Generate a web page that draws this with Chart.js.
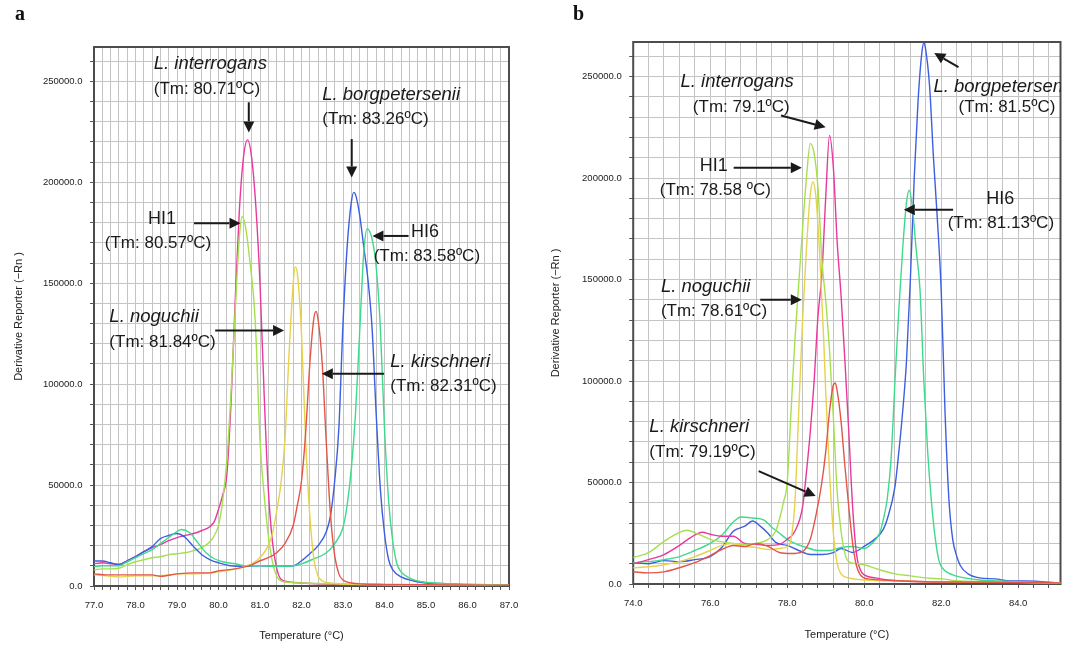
<!DOCTYPE html>
<html>
<head>
<meta charset="utf-8">
<title>Melt curves</title>
<script src="https://cdn.jsdelivr.net/npm/chart.js@4.4.1/dist/chart.umd.min.js"></script>
<style>
	body { margin: 0; background: #fff; }
	.wrap { position: relative; width: 1073px; height: 646px; overflow: hidden; }
	canvas { position: absolute; top: 0; }
	#chartA { left: 0; }
	#chartB { left: 540px; }
	.panel { position: absolute; top: 2px; font: bold 20px 'Liberation Serif', 'Times New Roman', serif; color: #111; }
</style>
</head>
<body>
<div class="wrap">
	<canvas id="chartA" width="540" height="646"></canvas>
	<canvas id="chartB" width="533" height="646"></canvas>
	<div class="panel" style="left:15px">a</div>
	<div class="panel" style="left:573px">b</div>
</div>
<script>
// panel a : [temperature, derivative reporter]
const aInterrogans = [[77.0, 11000], [77.2, 11500], [77.4, 11000], [77.6, 10800], [77.8, 12500], [78.0, 14500], [78.2, 17000], [78.4, 19000], [78.6, 20500], [78.8, 22500], [79.0, 24000], [79.2, 25000], [79.4, 26000], [79.6, 27500], [79.8, 29500], [79.9, 32000], [80.0, 38000], [80.1, 45000], [80.2, 55000], [80.3, 90000], [80.4, 140000], [80.5, 185000], [80.6, 212000], [80.7, 221000], [80.8, 212000], [80.9, 188000], [81.0, 150000], [81.1, 95000], [81.2, 48000], [81.3, 22000], [81.4, 9000], [81.5, 3500], [81.7, 2000], [82.0, 1500], [82.5, 1000], [83.0, 700], [84.0, 500], [85.0, 500], [86.0, 400], [87.0, 400]]
const aHI1 = [[77.0, 8000], [77.2, 8500], [77.4, 8500], [77.6, 8800], [77.8, 10500], [78.0, 12000], [78.2, 13000], [78.4, 14000], [78.6, 14500], [78.8, 15500], [79.0, 16000], [79.2, 16500], [79.4, 17500], [79.6, 19000], [79.8, 22000], [79.9, 25000], [80.0, 30000], [80.1, 42000], [80.2, 62000], [80.3, 95000], [80.4, 135000], [80.5, 172000], [80.57, 183000], [80.65, 178000], [80.75, 162000], [80.85, 142000], [80.9, 125000], [81.0, 72000], [81.1, 45000], [81.2, 25000], [81.3, 12000], [81.4, 5000], [81.5, 2500], [81.7, 1800], [82.0, 1500], [83.0, 1000], [84.0, 700], [85.0, 600], [86.0, 500], [87.0, 400]]
const aNoguchii = [[77.0, 5500], [77.3, 5000], [77.6, 4500], [78.0, 5000], [78.4, 5000], [78.8, 5500], [79.0, 6000], [79.4, 6000], [79.8, 6500], [80.0, 7000], [80.3, 8000], [80.6, 9500], [80.8, 11000], [81.0, 14000], [81.2, 20000], [81.3, 26000], [81.4, 37000], [81.5, 50000], [81.6, 72000], [81.7, 115000], [81.8, 150000], [81.85, 158000], [81.9, 155000], [82.0, 125000], [82.1, 72000], [82.2, 35000], [82.3, 13000], [82.4, 5000], [82.5, 2500], [82.7, 1500], [83.0, 1000], [84.0, 700], [85.0, 500], [86.0, 500], [87.0, 400]]
const aKirschneri = [[77.0, 6000], [77.3, 5500], [77.6, 5500], [78.0, 5500], [78.4, 5500], [78.6, 4800], [79.0, 6000], [79.4, 6500], [79.8, 6500], [80.0, 7500], [80.4, 8500], [80.8, 10500], [81.0, 12500], [81.2, 14000], [81.4, 16500], [81.6, 21000], [81.8, 30000], [81.9, 40000], [82.0, 52000], [82.1, 76000], [82.2, 110000], [82.3, 133000], [82.35, 136000], [82.4, 132000], [82.5, 110000], [82.6, 70000], [82.7, 35000], [82.8, 15000], [82.9, 6000], [83.0, 3000], [83.2, 1500], [83.5, 1000], [84.0, 800], [85.0, 600], [86.0, 500], [87.0, 400]]
const aBorgpetersenii = [[77.0, 12400], [77.2, 12400], [77.4, 11500], [77.6, 10500], [77.8, 12500], [78.0, 14500], [78.2, 17000], [78.4, 19500], [78.6, 23500], [78.8, 25000], [79.0, 26000], [79.2, 24000], [79.4, 19500], [79.6, 15500], [79.8, 13000], [80.0, 11500], [80.3, 10000], [80.6, 9800], [81.0, 10000], [81.4, 9800], [81.8, 10000], [82.0, 12500], [82.2, 16000], [82.4, 20000], [82.6, 27000], [82.7, 35000], [82.8, 52000], [82.9, 78000], [83.0, 130000], [83.1, 168000], [83.2, 190000], [83.26, 195000], [83.3, 194000], [83.4, 184000], [83.5, 168000], [83.6, 152000], [83.7, 128000], [83.8, 85000], [83.9, 48000], [84.0, 26000], [84.1, 13000], [84.2, 8000], [84.4, 4500], [84.7, 2500], [85.0, 1500], [85.5, 1200], [86.0, 600], [87.0, 400]]
const aHI6 = [[77.0, 9500], [77.2, 10000], [77.4, 10000], [77.6, 10000], [77.8, 12000], [78.0, 14000], [78.2, 16000], [78.4, 18000], [78.6, 21000], [78.8, 24000], [79.0, 27000], [79.1, 28000], [79.3, 26500], [79.5, 21500], [79.7, 16500], [79.9, 13500], [80.1, 12000], [80.4, 11000], [80.7, 10000], [81.0, 10000], [81.4, 9800], [81.8, 10000], [82.0, 11000], [82.3, 13500], [82.6, 16500], [82.8, 21000], [83.0, 29000], [83.1, 40000], [83.2, 58000], [83.3, 85000], [83.4, 125000], [83.5, 165000], [83.58, 177000], [83.7, 172000], [83.8, 158000], [83.9, 128000], [84.0, 78000], [84.1, 42000], [84.2, 22000], [84.3, 11000], [84.4, 7000], [84.6, 4000], [84.8, 2500], [85.2, 1500], [85.8, 1000], [86.5, 600], [87.0, 400]]

// panel b
const bInterrogans = [[74.0, 10000], [74.4, 12000], [74.8, 14500], [75.2, 19000], [75.5, 23000], [75.8, 25500], [76.0, 24500], [76.3, 23500], [76.6, 23500], [76.9, 20000], [77.2, 19500], [77.5, 19000], [77.8, 19500], [78.0, 22000], [78.2, 26000], [78.4, 38000], [78.5, 55000], [78.6, 75000], [78.7, 100000], [78.8, 132000], [78.9, 152000], [79.0, 190000], [79.1, 221000], [79.2, 205000], [79.3, 168000], [79.4, 142000], [79.5, 110000], [79.6, 75000], [79.7, 38000], [79.8, 15000], [79.9, 7000], [80.0, 4500], [80.3, 3000], [80.6, 2000], [81.0, 1500], [82.0, 1000], [83.0, 800], [84.0, 600], [85.1, 500]]
const bHI1 = [[74.0, 13000], [74.4, 15500], [74.8, 21000], [75.1, 24500], [75.4, 26500], [75.7, 24500], [76.0, 22000], [76.4, 20500], [76.8, 19500], [77.2, 20000], [77.5, 22000], [77.7, 26000], [77.8, 32000], [77.9, 40000], [78.0, 50000], [78.1, 85000], [78.2, 120000], [78.3, 148000], [78.4, 175000], [78.5, 200000], [78.6, 217000], [78.7, 212000], [78.8, 195000], [78.9, 160000], [79.0, 140000], [79.1, 115000], [79.2, 82000], [79.3, 45000], [79.4, 26000], [79.5, 15000], [79.6, 11000], [79.8, 10000], [80.0, 9500], [80.4, 7000], [80.8, 5000], [81.2, 4000], [81.6, 3000], [82.0, 2500], [82.5, 1500], [83.0, 1200], [84.0, 800], [85.1, 500]]
const bNoguchii = [[74.0, 8000], [74.4, 8500], [74.8, 9500], [75.2, 11000], [75.6, 13500], [76.0, 16500], [76.3, 19000], [76.6, 20000], [76.9, 18500], [77.2, 18000], [77.5, 17000], [77.8, 17500], [78.0, 18500], [78.1, 22000], [78.2, 40000], [78.3, 85000], [78.4, 130000], [78.5, 165000], [78.6, 192000], [78.67, 198000], [78.75, 190000], [78.85, 160000], [78.95, 120000], [79.0, 95000], [79.1, 55000], [79.2, 25000], [79.3, 10000], [79.4, 5000], [79.6, 3000], [80.0, 2000], [81.0, 1500], [82.0, 1000], [83.0, 1000], [84.0, 800], [85.1, 500]]
const bKirschneri = [[74.0, 6000], [74.4, 5500], [74.8, 6000], [75.2, 8000], [75.6, 10500], [76.0, 14000], [76.3, 17000], [76.6, 19000], [76.9, 18500], [77.2, 20000], [77.5, 18500], [77.8, 15500], [78.1, 15000], [78.4, 16000], [78.6, 22000], [78.75, 34000], [78.9, 50000], [79.0, 65000], [79.1, 85000], [79.2, 98000], [79.25, 99000], [79.3, 95000], [79.4, 80000], [79.5, 58000], [79.6, 38000], [79.7, 20000], [79.8, 9000], [79.9, 4500], [80.1, 2500], [80.5, 2000], [81.0, 1500], [82.0, 1000], [83.0, 1000], [84.0, 800], [85.1, 500]]
const bBorgpetersenii = [[74.0, 10500], [74.4, 10000], [74.8, 11500], [75.2, 11000], [75.6, 12000], [76.0, 13500], [76.3, 18000], [76.6, 26000], [76.9, 28500], [77.1, 31000], [77.3, 28500], [77.5, 25000], [77.7, 20500], [78.0, 19000], [78.3, 16500], [78.6, 14500], [78.9, 14500], [79.2, 15500], [79.4, 17500], [79.7, 15500], [80.0, 18500], [80.3, 22500], [80.5, 27000], [80.6, 32000], [80.8, 48000], [80.9, 65000], [81.0, 85000], [81.1, 110000], [81.2, 150000], [81.3, 200000], [81.4, 238000], [81.5, 262000], [81.55, 266500], [81.6, 263000], [81.7, 245000], [81.8, 210000], [81.9, 180000], [82.0, 145000], [82.1, 85000], [82.2, 42000], [82.3, 22000], [82.4, 14000], [82.5, 9000], [82.7, 5000], [83.0, 3000], [83.4, 2500], [83.8, 1500], [84.2, 1500], [85.1, 500]]
const bHI6 = [[74.0, 10500], [74.4, 11000], [74.8, 12000], [75.2, 13500], [75.6, 16500], [76.0, 20000], [76.3, 24000], [76.6, 30500], [76.8, 33000], [77.1, 32500], [77.4, 31500], [77.6, 28000], [77.8, 25000], [78.0, 22000], [78.2, 20000], [78.5, 18000], [78.8, 16500], [79.1, 16500], [79.4, 18000], [79.7, 18500], [80.0, 17500], [80.2, 20000], [80.4, 25000], [80.5, 32000], [80.6, 42000], [80.7, 62000], [80.8, 100000], [80.9, 135000], [81.0, 165000], [81.1, 188000], [81.17, 194000], [81.25, 186000], [81.35, 165000], [81.45, 145000], [81.55, 100000], [81.65, 65000], [81.75, 40000], [81.85, 22000], [81.95, 11000], [82.1, 6500], [82.3, 4500], [82.6, 3000], [83.0, 2000], [83.5, 1500], [84.0, 1000], [85.1, 500]]

// tick labels
const aTempLabels = [77, 78, 79, 80, 81, 82, 83, 84, 85, 86, 87]
const bTempLabels = [74, 76, 78, 80, 82, 84]
const yLabels = [0, 50000, 100000, 150000, 200000, 250000]

// annotations, in data units
const aTexts = [
	{ text: 'L. interrogans', italic: true, x: 78.44, y: 258700 },
	{ text: '(Tm: 80.71ºC)', x: 78.44, y: 245900 },
	{ text: 'L. borgpetersenii', italic: true, x: 82.5, y: 243300 },
	{ text: '(Tm: 83.26ºC)', x: 82.5, y: 231000 },
	{ text: 'HI1', x: 78.3, y: 182000 },
	{ text: '(Tm: 80.57ºC)', x: 77.26, y: 169700 },
	{ text: 'HI6', x: 84.64, y: 175400 },
	{ text: '(Tm: 83.58ºC)', x: 83.74, y: 163100 },
	{ text: 'L. noguchii', italic: true, x: 77.37, y: 133200 },
	{ text: '(Tm: 81.84ºC)', x: 77.37, y: 120600 },
	{ text: 'L. kirschneri', italic: true, x: 84.14, y: 111200 },
	{ text: '(Tm: 82.31ºC)', x: 84.14, y: 98800 },
]
const aArrows = [
	[80.73, 239600, 80.73, 224700],
	[83.21, 221400, 83.21, 202400],
	[79.41, 179700, 80.53, 179700],
	[84.58, 173400, 83.71, 173400],
	[79.92, 126600, 81.58, 126600],
	[83.99, 105100, 82.49, 105100],
]
const bTexts = [
	{ text: 'L. interrogans', italic: true, x: 75.23, y: 247200 },
	{ text: '(Tm: 79.1ºC)', x: 75.55, y: 234600 },
	{ text: 'L. borgpetersenii', italic: true, x: 81.8, y: 245100 },
	{ text: '(Tm: 81.5ºC)', x: 82.45, y: 234600 },
	{ text: 'HI1', x: 75.73, y: 206100 },
	{ text: '(Tm: 78.58 ºC)', x: 74.69, y: 194100 },
	{ text: 'HI6', x: 83.17, y: 189700 },
	{ text: '(Tm: 81.13ºC)', x: 82.17, y: 177700 },
	{ text: 'L. noguchii', italic: true, x: 74.72, y: 146400 },
	{ text: '(Tm: 78.61ºC)', x: 74.72, y: 134200 },
	{ text: 'L. kirschneri', italic: true, x: 74.42, y: 77300 },
	{ text: '(Tm: 79.19ºC)', x: 74.42, y: 65000 },
]
const bArrows = [
	[77.84, 230800, 79.0, 225000],
	[82.45, 254600, 81.82, 261600],
	[76.61, 205000, 78.38, 205000],
	[82.31, 184400, 81.03, 184400],
	[77.3, 140000, 78.38, 140000],
	[77.26, 55600, 78.74, 43300],
]

const PINK = '#e8389c'
const LIME = '#a6e04e'
const YELLOW = '#e6d24c'
const RED = '#e2564a'
const BLUE = '#3d5ee0'
const MINT = '#3fd98c'

const FONT = "'Liberation Sans', Arial, sans-serif"

function gridTicks(min, max, step) {
	const t = []
	for (let v = min; v <= max + 1e-9; v += step) t.push({ value: Math.round(v * 1000) / 1000 })
	return t
}

function isIn(list, v) {
	return list.some(l => Math.abs(l - v) < 1e-6)
}

function drawArrow(ctx, x1, y1, x2, y2) {
	const ang = Math.atan2(y2 - y1, x2 - x1)
	const len = 11
	const hw = 5.5
	const bx = x2 - Math.cos(ang) * len
	const by = y2 - Math.sin(ang) * len
	ctx.beginPath()
	ctx.moveTo(x1, y1)
	ctx.lineTo(bx, by)
	ctx.stroke()
	ctx.beginPath()
	ctx.moveTo(x2, y2)
	ctx.lineTo(bx - Math.sin(ang) * hw, by + Math.cos(ang) * hw)
	ctx.lineTo(bx + Math.sin(ang) * hw, by - Math.cos(ang) * hw)
	ctx.closePath()
	ctx.fill()
}

const framePlugin = {
	id: 'frame',
	beforeDatasetsDraw(chart) {
		const { ctx, chartArea: a } = chart
		ctx.save()
		ctx.strokeStyle = '#4d4d4d'
		ctx.lineWidth = 2
		ctx.strokeRect(a.left, a.top, a.right - a.left, a.bottom - a.top)
		ctx.restore()
	},
}

const notesPlugin = {
	id: 'notes',
	afterDatasetsDraw(chart, args, opts) {
		const { ctx, chartArea: a, scales: { x, y } } = chart
		ctx.save()
		ctx.beginPath()
		ctx.rect(a.left, a.top, a.right - a.left, a.bottom - a.top)
		ctx.clip()
		ctx.fillStyle = '#1a1a1a'
		ctx.strokeStyle = '#1a1a1a'
		ctx.lineWidth = 2
		ctx.textBaseline = 'middle'
		ctx.textAlign = 'left'
		opts.texts.forEach(t => {
			let size = 18
			if (t.italic) size = 18.5
			if (t.text.startsWith('(')) size = 17
			ctx.font = (t.italic ? 'italic ' : '') + size + 'px ' + FONT
			ctx.fillText(t.text, x.getPixelForValue(t.x), y.getPixelForValue(t.y))
		})
		opts.arrows.forEach(r => {
			drawArrow(ctx, x.getPixelForValue(r[0]), y.getPixelForValue(r[1]), x.getPixelForValue(r[2]), y.getPixelForValue(r[3]))
		})
		ctx.restore()
	},
}

function makeChart(id, cfg) {
	const datasets = cfg.series.map(s => ({
		label: s.name,
		data: s.points.map(p => ({ x: p[0], y: p[1] })),
		borderColor: s.color,
		borderWidth: 1.4,
		pointRadius: 0,
		fill: false,
		cubicInterpolationMode: 'monotone',
	}))

	return new Chart(document.getElementById(id), {
		type: 'line',
		data: { datasets },
		options: {
			responsive: false,
			animation: false,
			layout: { padding: { top: cfg.top, right: cfg.right, left: 0, bottom: 0 } },
			plugins: {
				legend: { display: false },
				tooltip: { enabled: false },
				notes: { texts: cfg.texts, arrows: cfg.arrows },
			},
			scales: {
				x: {
					type: 'linear',
					min: cfg.min,
					max: cfg.max,
					afterBuildTicks: axis => { axis.ticks = gridTicks(cfg.min, cfg.max, cfg.step) },
					afterFit: axis => { axis.height = cfg.xHeight },
					ticks: {
						autoSkip: false,
						maxRotation: 0,
						padding: 10,
						color: '#222',
						font: { family: FONT, size: 9.5 },
						callback: v => (isIn(cfg.xLabels, v) ? v.toFixed(1) : ''),
					},
					grid: { color: '#c4c4c4', lineWidth: 1, tickLength: 4, tickColor: '#555' },
					border: { display: false },
					title: {
						display: true,
						text: 'Temperature (°C)',
						color: '#222',
						font: { family: FONT, size: 11 },
						padding: { top: 0, bottom: cfg.xTitlePad },
					},
				},
				y: {
					type: 'linear',
					min: 0,
					max: 267000,
					afterBuildTicks: axis => { axis.ticks = gridTicks(0, 260000, 10000) },
					afterFit: axis => { axis.width = cfg.yWidth },
					ticks: {
						autoSkip: false,
						padding: 7.5,
						color: '#222',
						font: { family: FONT, size: 9.5 },
						callback: v => (isIn(yLabels, v) ? v.toFixed(1) : ''),
					},
					grid: { color: '#c4c4c4', lineWidth: 1, tickLength: 4, tickColor: '#555' },
					border: { display: false },
					title: {
						display: true,
						text: 'Derivative Reporter (\u2212Rn )',
						color: '#222',
						font: { family: FONT, size: 11 },
						padding: { top: cfg.yTitlePad, bottom: 0 },
					},
				},
			},
		},
		plugins: [framePlugin, notesPlugin],
	})
}

makeChart('chartA', {
	series: [
		{ name: 'L. kirschneri', color: RED, points: aKirschneri },
		{ name: 'L. noguchii', color: YELLOW, points: aNoguchii },
		{ name: 'HI6', color: MINT, points: aHI6 },
		{ name: 'L. borgpetersenii', color: BLUE, points: aBorgpetersenii },
		{ name: 'HI1', color: LIME, points: aHI1 },
		{ name: 'L. interrogans', color: PINK, points: aInterrogans },
	],
	texts: aTexts,
	arrows: aArrows,
	min: 77,
	max: 87,
	step: 0.2,
	xLabels: aTempLabels,
	top: 47,
	right: 31,
	yWidth: 94,
	xHeight: 60,
	xTitlePad: 3,
	yTitlePad: 12.4,
})

makeChart('chartB', {
	series: [
		{ name: 'L. kirschneri', color: RED, points: bKirschneri },
		{ name: 'L. noguchii', color: YELLOW, points: bNoguchii },
		{ name: 'HI1', color: LIME, points: bHI1 },
		{ name: 'L. interrogans', color: PINK, points: bInterrogans },
		{ name: 'HI6', color: MINT, points: bHI6 },
		{ name: 'L. borgpetersenii', color: BLUE, points: bBorgpetersenii },
	],
	texts: bTexts,
	arrows: bArrows,
	min: 74,
	max: 85.1,
	step: 0.4,
	xLabels: bTempLabels,
	top: 42,
	right: 12.5,
	yWidth: 93.2,
	xHeight: 62,
	xTitlePad: 4,
	yTitlePad: 9.4,
})
</script>
</body>
</html>
